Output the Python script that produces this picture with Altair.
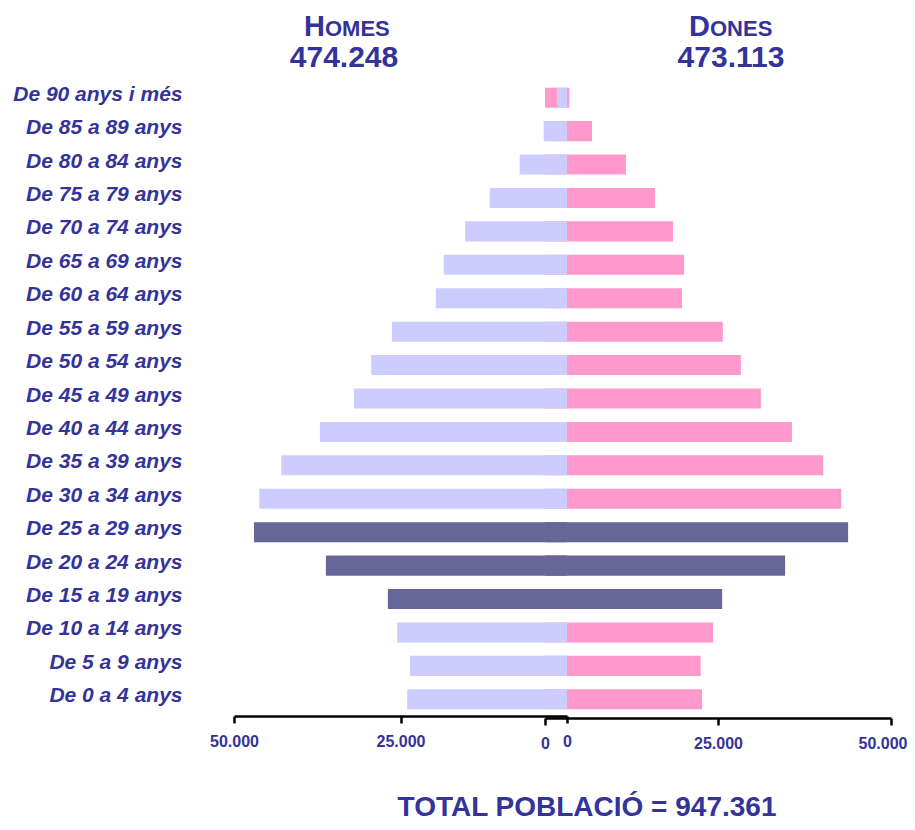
import altair as alt
import pandas as pd

# ---- data (bottom to top) ----
ages = ["De 0 a 4 anys", "De 5 a 9 anys", "De 10 a 14 anys", "De 15 a 19 anys",
        "De 20 a 24 anys", "De 25 a 29 anys", "De 30 a 34 anys", "De 35 a 39 anys",
        "De 40 a 44 anys", "De 45 a 49 anys", "De 50 a 54 anys", "De 55 a 59 anys",
        "De 60 a 64 anys", "De 65 a 69 anys", "De 70 a 74 anys", "De 75 a 79 anys",
        "De 80 a 84 anys", "De 85 a 89 anys", "De 90 anys i més"]
homes = [24000, 23600, 25500, 26900, 36200, 47000, 46200, 42900, 37100, 32000,
         29400, 26300, 19700, 18500, 15300, 11600, 7100, 3500, 1500]
dones = [22700, 22500, 24300, 25600, 34700, 43800, 42800, 40200, 35700, 31200,
         28300, 25700, 19800, 20100, 18500, 15900, 11700, 6800, 3500]
highlight = ["De 15 a 19 anys", "De 20 a 24 anys", "De 25 a 29 anys"]
axis_ticks = [0, 25000, 50000]
total_homes = "474.248"
total_dones = "473.113"
total_poblacio = "947.361"

TXT = "#333399"
LAV = "#ccccff"
PINK = "#ff99cc"
DARK = "#666699"
FONT = "Liberation Sans"

df = pd.DataFrame({"age": ages, "homes": homes, "dones": dones})
order = ages[::-1]

y_enc = alt.Y("age:N", sort=order,
              scale=alt.Scale(paddingInner=0.4, paddingOuter=0.2),
              axis=alt.Axis(title=None, ticks=False, domain=False,
                            labelFont=FONT, labelFontSize=21, labelFontWeight="bold",
                            labelFontStyle="italic", labelColor=TXT,
                            labelPadding=18, labelOffset=-3, labelLimit=300))

label_expr = "replace(format(datum.value, ','), ',', '.')"

def x_axis(offset, right_edge=False):
    kw = {}
    if right_edge:
        # keep the last label of the right axis inside the page
        kw["labelAlign"] = {"condition": {"test": "datum.value == 50000", "value": "right"},
                            "value": "center"}
        kw["labelOffset"] = {"condition": {"test": "datum.value == 50000", "value": 16},
                             "value": 0}
    return alt.Axis(title=None, orient="bottom", values=axis_ticks, grid=False,
                    labelExpr=label_expr, labelFont=FONT, labelFontSize=16,
                    labelFontWeight="bold", labelColor=TXT, labelPadding=10,
                    labelFlush=False, labelOverlap=False,
                    domainColor="black", domainWidth=2.5, tickColor="black",
                    tickWidth=2.5, tickSize=7, offset=offset, **kw)

is_hi = alt.FieldOneOfPredicate(field="age", oneOf=highlight)

women = alt.Chart(df).mark_bar().encode(
    x=alt.X("dones:Q", scale=alt.Scale(domain=[0, 50000], range=[345, 691], nice=False),
            axis=x_axis(2, True)),
    y=y_enc,
    color=alt.condition(is_hi, alt.value(DARK), alt.value(PINK)),
)

men = alt.Chart(df).mark_bar().encode(
    x=alt.X("homes:Q", scale=alt.Scale(domain=[0, 50000], range=[367, 34], nice=False),
            axis=x_axis(0)),
    y=y_enc,
    color=alt.condition(is_hi, alt.value(DARK), alt.value(LAV)),
)

def txt(s, x, y, size, align="center"):
    return alt.Chart(pd.DataFrame({"t": [s]})).mark_text(
        font=FONT, fontSize=size, fontWeight="bold", color=TXT,
        align=align, baseline="alphabetic"
    ).encode(x=alt.value(x), y=alt.value(y), text="t:N")

texts = [
    txt("H", 125, -45, 29, "right"),
    txt("OMES", 125, -45, 22, "left"),
    txt(total_homes, 144, -14, 30),
    txt("D", 510, -45, 29, "right"),
    txt("ONES", 510, -45, 22, "left"),
    txt(total_dones, 531, -14, 30),
    txt("TOTAL POBLACIÓ = " + total_poblacio, 387, 735, 28),
]

chart = alt.layer(women, men, *texts).resolve_scale(x="independent").properties(
    width=700, height=635,
    autosize=alt.AutoSizeParams(type="none"),
    padding={"left": 192, "top": 73, "right": 7, "bottom": 106},
).configure_view(stroke=None)

chart.save("out.html", embed_options={"renderer": "svg", "actions": False})
